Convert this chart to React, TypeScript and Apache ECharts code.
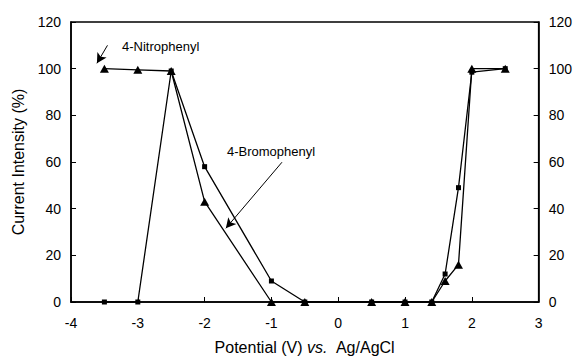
import React, { useEffect, useRef } from "react";
import * as echarts from "echarts";

const potentials = [-3.5, -3, -2.5, -2, -1, -0.5, 0.5, 1, 1.4, 1.6, 1.8, 2, 2.5];
const bromoValues = [0, 0, 99, 58, 9, 0, 0, 0, 0, 12, 49, 98.5, 100];
const nitroValues = [100, 99.5, 99, 43, 0, 0, 0, 0, 0, 9, 16, 100, 100];
const xTicks = { min: -4, max: 3, interval: 1 };
const yTicks = { min: 0, max: 120, interval: 20 };
const nitroLabel = "4-Nitrophenyl";
const bromoLabel = "4-Bromophenyl";
const nitroArrow = [[-3.454, 110], [-3.612, 102.3]];
const bromoArrow = [[-0.842, 59.9], [-1.682, 31.6]];

const FONT = "'Liberation Sans', Arial, sans-serif";

export default function App() {
  const ref = useRef<HTMLDivElement>(null);
  useEffect(() => {
    if (!ref.current) return;
    const chart = echarts.init(ref.current, null, { renderer: "svg" });
    const pair = (xs: number[], ys: number[]) => xs.map((x, i) => [x, ys[i]]);
    const arrowLine = (pts: number[][]) => [
      [
        { coord: pts[0], symbol: "none" },
        { coord: pts[1], symbol: "arrow" },
      ],
    ];
    const yAxisBase = {
      type: "value",
      min: yTicks.min,
      max: yTicks.max,
      interval: yTicks.interval,
      axisLine: { show: true, onZero: false, lineStyle: { color: "#000", width: 1.5 } },
      axisTick: { show: true, inside: true, length: 5, lineStyle: { color: "#000", width: 1 } },
      axisLabel: { color: "#000", fontSize: 14, fontFamily: FONT, margin: 10 },
      splitLine: { show: false },
    };
    chart.setOption({
      animation: false,
      grid: {
        left: 71,
        right: 35,
        top: 22,
        bottom: 55,
        show: true,
        borderColor: "#000",
        borderWidth: 1.5,
        backgroundColor: "transparent",
      },
      xAxis: {
        type: "value",
        min: xTicks.min,
        max: xTicks.max,
        interval: xTicks.interval,
        axisLine: { show: true, onZero: false, lineStyle: { color: "#000", width: 1.5 } },
        axisTick: { show: true, inside: true, length: 5, lineStyle: { color: "#000", width: 1 } },
        axisLabel: { color: "#000", fontSize: 14, fontFamily: FONT, margin: 14 },
        splitLine: { show: false },
        name: "{n|Potential (V) }{i|vs.}{n|  Ag/AgCl}",
        nameLocation: "middle",
        nameGap: 37,
        nameTextStyle: {
          color: "#000",
          fontSize: 16,
          fontFamily: FONT,
          rich: {
            n: { fontSize: 16, fontFamily: FONT, color: "#000" },
            i: { fontSize: 16, fontFamily: FONT, color: "#000", fontStyle: "italic" },
          },
        },
      },
      yAxis: [
        {
          ...yAxisBase,
          position: "left",
          name: "Current Intensity (%)",
          nameLocation: "middle",
          nameGap: 43,
          nameTextStyle: { color: "#000", fontSize: 16, fontFamily: FONT },
        },
        { ...yAxisBase, position: "right" },
      ],
      series: [
        {
          name: bromoLabel,
          type: "line",
          data: pair(potentials, bromoValues),
          symbol: "rect",
          symbolSize: 5,
          itemStyle: { color: "#000" },
          lineStyle: { color: "#000", width: 1.3 },
          z: 2,
        },
        {
          name: nitroLabel,
          type: "line",
          data: pair(potentials, nitroValues),
          symbol: "triangle",
          symbolSize: [9, 8],
          itemStyle: { color: "#000" },
          lineStyle: { color: "#000", width: 1.3 },
          z: 3,
          markLine: {
            silent: true,
            symbolSize: [8, 10],
            label: { show: false },
            lineStyle: { color: "#000", width: 1, type: "solid" },
            emphasis: { disabled: true },
            data: [...arrowLine(nitroArrow), ...arrowLine(bromoArrow)],
          },
        },
      ],
      graphic: [
        {
          type: "text",
          x: 122,
          y: 46,
          style: {
            text: nitroLabel,
            fontSize: 13,
            fontFamily: FONT,
            fill: "#000",
            verticalAlign: "middle",
          },
        },
        {
          type: "text",
          x: 227,
          y: 151,
          style: {
            text: bromoLabel,
            fontSize: 13,
            fontFamily: FONT,
            fill: "#000",
            verticalAlign: "middle",
          },
        },
      ],
    });
    return () => chart.dispose();
  }, []);
  return (
    <div
      ref={ref}
      style={{ position: "fixed", left: 0, top: 0, width: 575, height: 360, background: "#fff" }}
    />
  );
}
